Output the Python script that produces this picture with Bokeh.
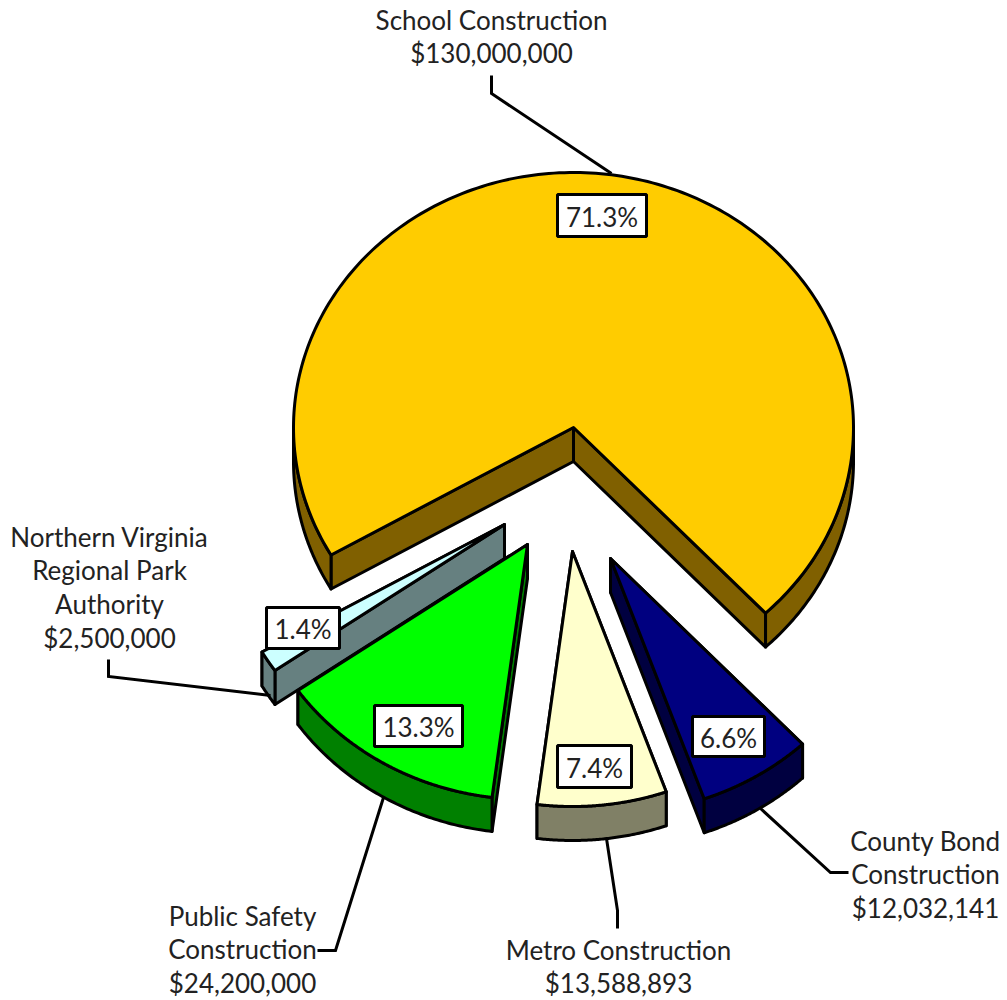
import numpy as np
from bokeh.plotting import figure
from bokeh.models import Range1d
from bokeh.core.properties import value
from bokeh.embed import file_html
from bokeh.resources import INLINE

categories = ["School Construction", "County Bond Construction", "Metro Construction",
              "Public Safety Construction", "Northern Virginia Regional Park Authority"]
amounts = [130000000, 12032141, 13588893, 24200000, 2500000]
percent_labels = ["71.3%", "6.6%", "7.4%", "13.3%", "1.4%"]
amount_labels = ["$130,000,000", "$12,032,141", "$13,588,893", "$24,200,000", "$2,500,000"]
name_lines = [["School Construction"], ["County Bond", "Construction"], ["Metro Construction"],
              ["Public Safety", "Construction"], ["Northern Virginia", "Regional Park", "Authority"]]
top_colors = ["#FFCC00", "#000080", "#FFFFCC", "#00FF00", "#CCFFFF"]
side_colors = ["#806000", "#000040", "#808066", "#008000", "#668080"]

# layout (screen pixels)
CX, CY, RX, RY, DEPTH = 573, 427, 280, 255, 34
START_DEG = 210.0
apexes = [(573, 427), (610, 558), (572, 551), (527, 544), (504, 524)]
draw_order = [0, 4, 3, 2, 1]
FONT = "Lato"
FS = "26px"
LW = 3
BASE_STEP = 33.7
label_center = [491, 925, 618, 242, 109]
label_first_baseline = [19, 840, 949, 915, 536]
pct_boxes = [(557, 646, 194, 236), (692, 764, 716, 756), (557, 631, 745, 787),
             (374, 462, 705, 746), (266, 339, 607, 648)]
leaders = [[(611, 173), (491, 93), (491, 75)],
           [(760, 808), (830, 872), (848, 872)],
           [(606, 838), (617, 910), (617, 928)],
           [(383, 797), (335, 950), (317, 950)],
           [(270, 695), (108, 676), (108, 659)]]

p = figure(width=1007, height=1000, output_backend="svg", toolbar_location=None,
           x_range=Range1d(0, 1007), y_range=Range1d(1000, 0),
           min_border=0, outline_line_color=None)
p.axis.visible = False
p.grid.visible = False
p.background_fill_color = "white"
p.border_fill_color = "white"

total = sum(amounts)
edges = START_DEG - 360.0 * np.cumsum([0] + amounts) / total


def pt(apex, deg):
    r = np.radians(deg)
    return apex[0] + RX * np.cos(r), apex[1] - RY * np.sin(r)


def poly(xs, ys, fill):
    p.patch(list(xs), list(ys), fill_color=fill, line_color="black", line_width=LW,
            line_join="round")


for i in draw_order:
    apex = apexes[i]
    a0, a1 = edges[i], edges[i + 1]
    # flat cut faces, farther edge first
    for a in sorted((a0, a1), key=lambda d: pt(apex, d)[1]):
        x, y = pt(apex, a)
        poly([apex[0], x, x, apex[0]], [apex[1], y, y + DEPTH, apex[1] + DEPTH], side_colors[i])
    # front rim: part of the arc with the lower half of the ellipse
    for lo, hi in ((-180.0, 0.0), (180.0, 360.0)):
        s, e = max(a1, lo), min(a0, hi)
        if e > s:
            t = np.linspace(e, s, 80)
            xs, ys = pt(apex, t)
            poly(np.r_[xs, xs[::-1]], np.r_[ys, ys[::-1] + DEPTH], side_colors[i])
    # top
    t = np.linspace(a0, a1, 240)
    xs, ys = pt(apex, t)
    poly(np.r_[apex[0], xs], np.r_[apex[1], ys], top_colors[i])

for pts in leaders:
    p.line([q[0] for q in pts], [q[1] for q in pts], line_color="black", line_width=LW,
           line_join="miter")

for i, box in enumerate(pct_boxes):
    p.quad(left=box[0], right=box[1], top=box[2], bottom=box[3], fill_color="white",
           line_color="black", line_width=LW)
    p.text([(box[0] + box[1]) / 2], [(box[2] + box[3]) / 2 + 1], text=[percent_labels[i]],
           text_font=value(FONT), text_font_size=FS, text_align="center",
           text_baseline="middle", text_color="#222222")

for i in range(len(categories)):
    lines = name_lines[i] + [amount_labels[i]]
    for k, s in enumerate(lines):
        p.text([label_center[i]], [label_first_baseline[i] + k * BASE_STEP], text=[s],
               text_font=value(FONT), text_font_size=FS, text_align="center",
               text_baseline="alphabetic", text_color="#222222")

open("out.html", "w").write(file_html(p, INLINE))
